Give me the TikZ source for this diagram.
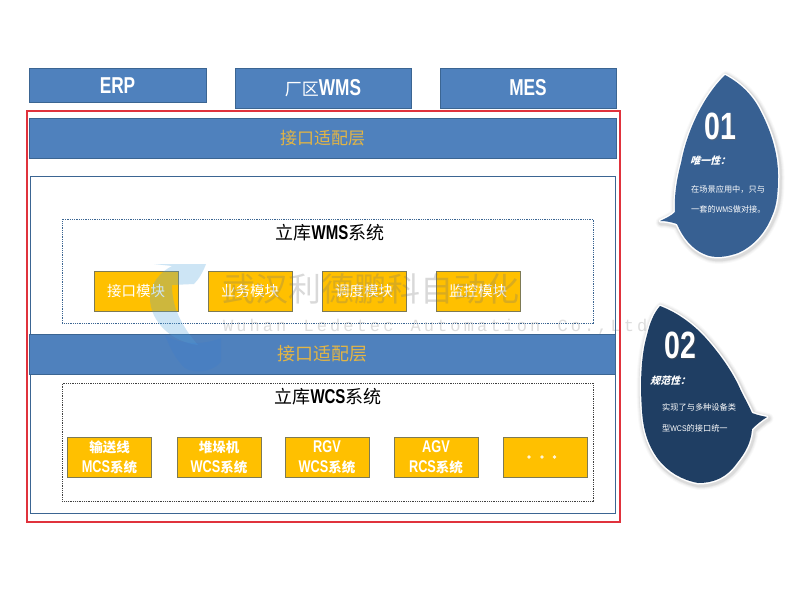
\documentclass[tikz,border=0pt]{standalone}
\usepackage{fontspec}
\setmainfont{Noto Sans CJK SC}
\newfontfamily\cjkslant[FakeSlant=0.3]{Noto Sans CJK SC}
\newfontfamily\latb[FakeStretch=0.75]{Liberation Sans}
\newfontfamily\latn[FakeStretch=0.85]{Liberation Sans}
\newfontfamily\wmen[LetterSpace=18]{Liberation Mono}
\newcommand\Lat[1]{{\latb\bfseries #1}}
\newcommand\sz[2]{\fontsize{#1}{#2}\selectfont}
\definecolor{bandblue}{HTML}{4F81BD}
\definecolor{bandedge}{HTML}{3B6592}
\definecolor{goldbox}{HTML}{FFC000}
\definecolor{goldedge}{HTML}{7D7A55}
\definecolor{goldtxt}{HTML}{E3B544}
\definecolor{redline}{HTML}{E0323C}
\definecolor{bubA}{HTML}{376092}
\definecolor{bubB}{HTML}{1F3E63}
\definecolor{logoblue}{HTML}{4FA3DC}
\tikzset{
  band/.style={draw=bandedge,fill=bandblue,line width=0.9pt,inner sep=0pt,text=white},
  adapter/.style={band,text=goldtxt,font=\sz{17}{20}},
  modbox/.style={draw=goldedge,fill=goldbox,line width=0.9pt,inner sep=0pt,text=white,
    minimum height=40pt,align=center},
  wmsmod/.style={modbox,minimum width=84pt,font=\sz{14.5}{18}},
  wcsmod/.style={modbox,minimum width=84pt,font=\sz{13.5}{20}\bfseries},
  titletxt/.style={inner sep=0pt,text=black,font=\sz{18}{22}},
  wmtxt/.style={inner sep=0pt,text=black!55,opacity=0.27},
  bubtxt/.style={inner sep=0pt,text=white,font=\sz{8.2}{10}},
  bubhead/.style={inner sep=0pt,text=white,font=\sz{10}{12}\cjkslant\bfseries},
  bubnum/.style={inner sep=0pt,text=white,font=\sz{38}{40}\latb\bfseries},
}
\def\bubbleone{(725,75) .. controls (742,84) and (754,97) .. (761,112)
  .. controls (772,133) and (778,155) .. (778,175)
  .. controls (778,193) and (777,205) .. (772,216)
  .. controls (765,234) and (752,247) .. (738,253)
  .. controls (727,257) and (714,259) .. (704,254)
  .. controls (692,249) and (683,238) .. (677,224)
  .. controls (671,222) and (666,221) .. (660,221)
  .. controls (666,218) and (671,216) .. (675,212)
  .. controls (674,195) and (677,178) .. (681,163)
  .. controls (686,136) and (700,100) .. (725,75) -- cycle}
\def\bubbletwo{(660,306) .. controls (676,312) and (690,322) .. (702,334)
  .. controls (718,351) and (733,372) .. (741,391)
  .. controls (745,399) and (749,406) .. (752,413)
  .. controls (757,415) and (762,416) .. (767,417)
  .. controls (762,420) and (756,425) .. (752,429)
  .. controls (751,443) and (745,453) .. (737,463)
  .. controls (727,477) and (715,483) .. (698,483)
  .. controls (682,480) and (668,472) .. (658,459)
  .. controls (647,444) and (643,428) .. (642,410)
  .. controls (640,385) and (641,355) .. (647,335)
  .. controls (650,322) and (654,313) .. (660,306) -- cycle}
\begin{document}
\begin{tikzpicture}[x=1pt,y=-1pt]
\useasboundingbox (0,0) rectangle (800,600);
\fill[white] (0,0) rectangle (800,600);

% top systems
\node[band,minimum width=177pt,minimum height=34pt,font=\sz{23}{26}] (erp) at (117.5,85.5) {\Lat{ERP}};
\node[band,minimum width=176pt,minimum height=40pt,font=\sz{23}{26}] (fac) at (323,88) {{\sz{17}{20}厂区}\Lat{WMS}};
\node[band,minimum width=176pt,minimum height=40pt,font=\sz{23}{26}] (mes) at (528,88) {\Lat{MES}};

% red frame
\node[draw=redline,line width=1.5pt,minimum width=593pt,minimum height=411pt,inner sep=0pt] (frame) at (323.5,316.5) {};

% adapter layer
\node[adapter,minimum width=587pt,minimum height=40pt] (adtop) at (322.5,138) {接口适配层};

% inner frame
\node[draw=bandedge,fill=white,line width=1pt,minimum width=585pt,minimum height=337pt,inner sep=0pt] (inner) at (322.5,344.5) {};

% WMS group
\node[draw=bandedge,densely dotted,line width=0.8pt,minimum width=531pt,minimum height=104pt,inner sep=0pt] (wmsgroup) at (327.8,271) {};
\node[titletxt] (wmstitle) at (330,232.5) {立库\Lat{\sz{20}{22}WMS}系统};
\node[wmsmod] (m1) at (136,291) {接口模块};
\node[wmsmod] (m2) at (250,291) {业务模块};
\node[wmsmod] (m3) at (364,291) {调度模块};
\node[wmsmod] (m4) at (478,291) {监控模块};

% second adapter layer
\node[adapter,minimum width=586pt,minimum height=40pt,font=\sz{18}{20}] (admid) at (322.5,354) {接口适配层};

% WCS group
\node[draw=black!75,densely dotted,line width=0.8pt,minimum width=531pt,minimum height=118pt,inner sep=0pt] (wcsgroup) at (327.8,442) {};
\node[titletxt] (wcstitle) at (328,396.5) {立库\Lat{\sz{20}{22}WCS}系统};
\node[wcsmod] (w1) at (109.5,457.5) {输送线\\\Lat{\sz{17}{20}MCS}系统};
\node[wcsmod] (w2) at (219,457.5) {堆垛机\\\Lat{\sz{17}{20}WCS}系统};
\node[wcsmod] (w3) at (327,457.5) {\Lat{\sz{17}{20}RGV}\\\Lat{\sz{17}{20}WCS}系统};
\node[wcsmod] (w4) at (436,457.5) {\Lat{\sz{17}{20}AGV}\\\Lat{\sz{17}{20}RCS}系统};
\node[wcsmod] (w5) at (545.5,457.5) {};
\foreach \px in {529,542,554.5}{\fill[white,opacity=0.85] (\px,457) circle (1.8);}

% watermark logo
\fill[logoblue,opacity=0.28] (154,264) -- (206,264) .. controls (203,272) and (199,279) .. (194,284)
  -- (172,285) .. controls (172,300) and (176,320) .. (198,345)
  .. controls (172,342) and (150,322) .. (150,298) .. controls (150,284) and (160,272) .. (172,266) -- cycle;
\fill[blue!60!cyan,opacity=0.07] (165,335) .. controls (180,345) and (205,345) .. (221,338)
  -- (221,362) .. controls (212,372) and (195,374) .. (185,368) .. controls (176,360) and (170,348) .. (165,335) -- cycle;
% watermark text
\node[wmtxt,anchor=west,font=\sz{33}{36}] (wmcn) at (222,289) {武汉利德鹏科自动化};
\node[wmtxt,anchor=west,opacity=0.24,font=\sz{17}{20}\wmen] (wmen) at (223,326.5) {Wuhan\ \hspace{4pt}Ledetec\ \hspace{4pt}Automation\ \hspace{4pt}Co.,Ltd};

% bubble 1
\foreach \w/\o in {11/0.025,9/0.03,7/0.04,5.5/0.05}{
  \draw[black,line width=\w pt,opacity=\o,line join=round,shift={(1,1.5)}] \bubbleone;}
\draw[white,line width=3pt,line join=round,fill=bubA] \bubbleone;
\fill[bubA] \bubbleone;
\node[bubnum,text=black!60,opacity=0.5] at (721,127) {01};
\node[bubnum] (n1) at (720,126) {01};
\node[bubhead,anchor=west] (h1) at (690,160.5) {唯一性：};
\node[bubtxt,anchor=west] (t1a) at (691,189) {在场景应用中，只与};
\node[bubtxt,anchor=west] (t1b) at (691,209) {一套的\latn WMS\normalfont 做对接。};

% bubble 2
\foreach \w/\o in {11/0.025,9/0.03,7/0.04,5.5/0.05}{
  \draw[black,line width=\w pt,opacity=\o,line join=round,shift={(1,1.5)}] \bubbletwo;}
\draw[white,line width=3pt,line join=round,fill=bubB] \bubbletwo;
\fill[bubB] \bubbletwo;
\node[bubnum,text=black!70,opacity=0.5] at (681,346) {02};
\node[bubnum] (n2) at (680,345) {02};
\node[bubhead,anchor=west] (h2) at (650,381) {规范性：};
\node[bubtxt,anchor=west] (t2a) at (662,407) {实现了与多种设备类};
\node[bubtxt,anchor=west] (t2b) at (662,428) {型\latn WCS\normalfont 的接口统一};
\end{tikzpicture}
\end{document}
